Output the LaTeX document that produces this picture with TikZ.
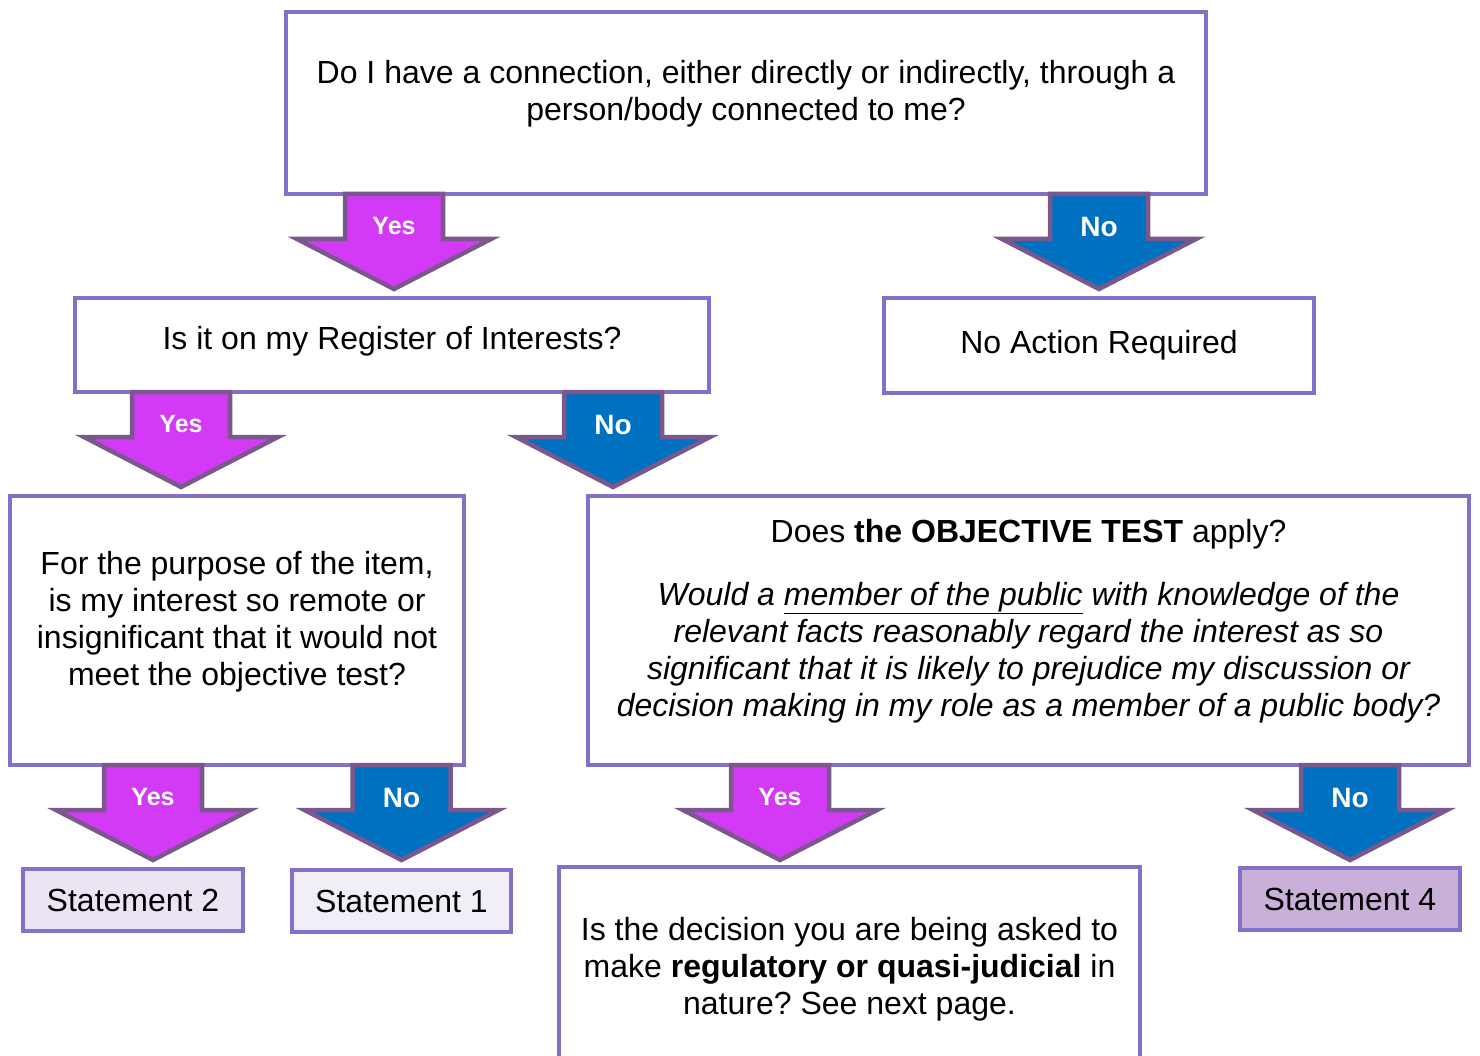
\documentclass[tikz,border=0pt]{standalone}
\usepackage{fontspec}
\setmainfont{Liberation Sans}
\usepackage{xcolor}
\usetikzlibrary{calc}
\frenchspacing

\definecolor{boxline}{RGB}{132,112,200}
\definecolor{arrowedge}{RGB}{122,88,140}
\definecolor{yesfill}{RGB}{210,58,245}
\definecolor{nofill}{RGB}{0,112,192}
\definecolor{stmtA}{RGB}{235,228,242}
\definecolor{stmtB}{RGB}{242,238,247}
\definecolor{stmtC}{RGB}{200,176,216}

\tikzset{
    arrowline/.style={draw=arrowedge, line width=4.5pt, line join=miter},
    pics/yesarrow/.style={code={
        \draw[arrowline, fill=yesfill] (-49,0) -- (-49,45) -- (-97,45) -- (0,95) -- (97,45) -- (49,45) -- (49,0) -- cycle;
        \node[text=white, font=\bfseries\fontsize{25}{25}\selectfont] (-label) at (0,32) {Yes};
    }},
    pics/noarrow/.style={code={
        \draw[arrowline, fill=nofill] (-49,0) -- (-49,45) -- (-97,45) -- (0,95) -- (97,45) -- (49,45) -- (49,0) -- cycle;
        \node[text=white, font=\bfseries\fontsize{28}{28}\selectfont] (-label) at (0,33) {No};
    }}
}

\begin{document}
\begin{tikzpicture}[x=1pt, y=-1pt,
    box/.style={draw=boxline, line width=4pt, fill=white, outer sep=0pt, inner sep=0pt,
        font=\fontsize{32}{37}\selectfont},
    txt/.style={align=center, font=\fontsize{32}{37}\selectfont}]
    \clip (0,0) rectangle (1480,1056);

    % question boxes
    \node[box, minimum width=920, minimum height=182] (q1) at (746,103) {};
    \node[txt] (q1t) at (746,94) {Do I have a connection, either directly or indirectly, through a\\person/body connected to me?};

    \node[box, minimum width=634, minimum height=94] (q2) at (392,345) {};
    \node[txt] (q2t) at (392,341) {Is it on my Register of Interests?};
    \node[box, minimum width=430, minimum height=95] (none) at (1099,345.5) {No Action Required};

    \node[box, minimum width=454, minimum height=269] (q3) at (237,630.5) {};
    \node[txt] (q3t) at (237,622) {For the purpose of the item,\\is my interest so remote or\\insignificant that it would not\\meet the objective test?};

    \node[box, minimum width=881, minimum height=269] (q4) at (1028.5,630.5) {};
    \node[txt] (q4t) at (1028.5,621) {Does \textbf{the OBJECTIVE TEST} apply?\\[26pt]
        \itshape Would a \underline{member of the public} with knowledge of the\\
        \itshape relevant facts reasonably regard the interest as so\\
        \itshape significant that it is likely to prejudice my discussion or\\
        \itshape decision making in my role as a member of a public body?};

    % outcomes
    \node[box, fill=stmtA, minimum width=220, minimum height=62] (s2) at (133,900) {Statement 2};
    \node[box, fill=stmtB, minimum width=219, minimum height=62] (s1) at (401.5,901) {Statement 1};
    \node[box, fill=stmtC, minimum width=220, minimum height=62] (s4) at (1350,899) {Statement 4};

    \node[box, minimum width=581, minimum height=233] (q5) at (849.5,983.5) {};
    \node[txt] (q5t) at (849.5,969) {Is the decision you are being asked to\\make \textbf{regulatory or quasi-judicial} in\\nature? See next page.};

    % block arrows
    \pic (yes1) at ($(q1.south west)+(108,0)$) {yesarrow};
    \pic (no1) at (q1.south -| none.north) {noarrow};
    \pic (yes2) at ($(q2.south west)+(106,0)$) {yesarrow};
    \pic (no2) at ($(q2.south west)+(538,0)$) {noarrow};
    \pic (yes3) at ($(q3.south west)+(143,0)$) {yesarrow};
    \pic (no3) at (q3.south -| s1.north) {noarrow};
    \pic (yes4) at ($(q4.south west)+(192,0)$) {yesarrow};
    \pic (no4) at (q4.south -| s4.north) {noarrow};
\end{tikzpicture}
\end{document}
